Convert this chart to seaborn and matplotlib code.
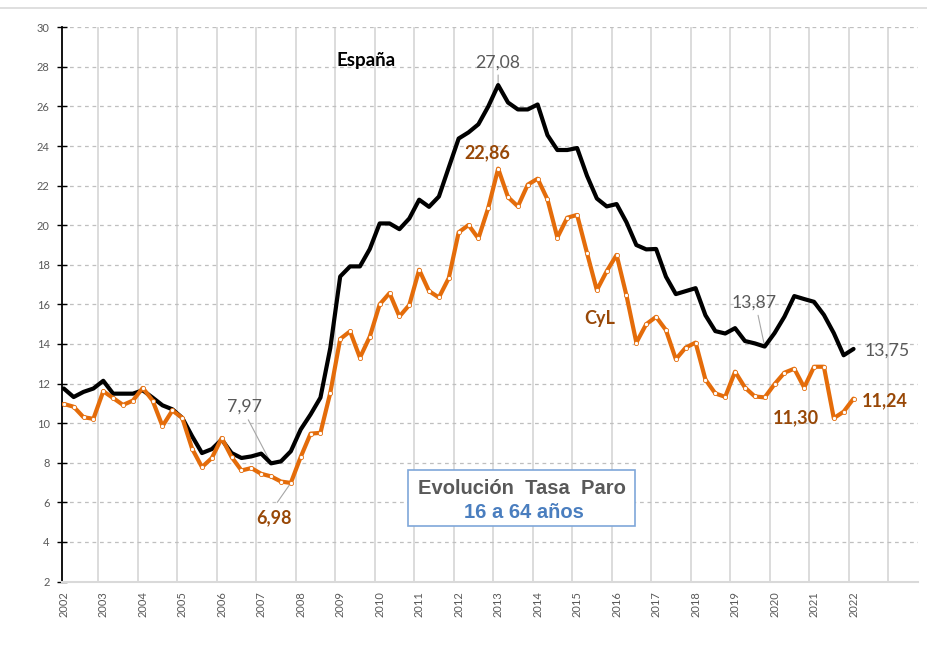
import numpy as np
import pandas as pd
import matplotlib
matplotlib.use("Agg")
import matplotlib.pyplot as plt
from matplotlib.patches import Rectangle
from matplotlib.lines import Line2D
import seaborn as sns

# -----------------------------------
# DATA : tasa de paro 16-64 anos, trimestral 2002T1 - 2022T1
# -----------------------------------

years = [2002, 2003, 2004, 2005, 2006, 2007, 2008, 2009, 2010, 2011, 2012,
         2013, 2014, 2015, 2016, 2017, 2018, 2019, 2020, 2021, 2022]

espana = [11.75, 11.32, 11.58, 11.75, 12.14, 11.49, 11.49, 11.49, 11.66, 11.29,
          10.90, 10.70, 10.27, 9.34, 8.49, 8.69, 9.17, 8.49, 8.24, 8.32,
          8.46, 7.97, 8.07, 8.58, 9.68, 10.44, 11.29, 13.80, 17.41, 17.92,
          17.92, 18.80, 20.09, 20.09, 19.80, 20.34, 21.29, 20.93, 21.45, 22.92,
          24.38, 24.69, 25.10, 26.00, 27.08, 26.20, 25.85, 25.85, 26.10, 24.55,
          23.80, 23.80, 23.90, 22.50, 21.35, 20.95, 21.07, 20.15, 19.00, 18.78,
          18.80, 17.40, 16.52, 16.67, 16.82, 15.45, 14.65, 14.53, 14.80, 14.15,
          14.03, 13.87, 14.55, 15.38, 16.42, 16.27, 16.13, 15.47, 14.55, 13.43,
          13.75]

cyl = [10.97, 10.83, 10.30, 10.22, 11.61, 11.27, 10.92, 11.14, 11.78, 11.14,
       9.85, 10.64, 10.27, 8.71, 7.78, 8.24, 9.25, 8.29, 7.61, 7.73,
       7.44, 7.31, 7.05, 6.98, 8.29, 9.47, 9.51, 11.54, 14.25, 14.64,
       13.31, 14.37, 16.00, 16.57, 15.39, 15.97, 17.75, 16.67, 16.35, 17.33,
       19.64, 20.01, 19.33, 20.88, 22.86, 21.42, 20.95, 22.05, 22.35, 21.30,
       19.38, 20.38, 20.52, 18.60, 16.72, 17.68, 18.50, 16.45, 14.07, 15.00,
       15.37, 14.70, 13.23, 13.82, 14.07, 12.20, 11.50, 11.33, 12.60, 11.80,
       11.35, 11.30, 11.97, 12.55, 12.75, 11.80, 12.85, 12.85, 10.25, 10.58,
       11.24]

# -----------------------------------
# STYLE
# -----------------------------------

BLACK = "#000000"
ORANGE = "#E46C0A"
BROWN = "#984807"
GREY_TXT = "#595959"
BLUE = "#4A7EBF"


def main():

    sns.set_theme(style="white")
    plt.rcParams["font.family"] = ["Lato", "DejaVu Sans"]

    df = pd.DataFrame({
        "q": np.arange(len(espana)),
        "espana": espana,
        "cyl": cyl,
    })

    fig = plt.figure(figsize=(9.27, 6.56), dpi=100)
    ax = fig.add_axes([61.5 / 927, 1 - 581.5 / 656,
                       (917.7 - 61.5) / 927, (581.5 - 27.3) / 656])

    # ---------------- LINES ----------------

    sns.lineplot(data=df, x="q", y="espana", ax=ax, color=BLACK,
                 linewidth=3, zorder=4)
    sns.lineplot(data=df, x="q", y="cyl", ax=ax, color=ORANGE,
                 linewidth=3, marker="o", markersize=3,
                 markerfacecolor="white", markeredgecolor=ORANGE,
                 markeredgewidth=0.6, zorder=5)

    # ---------------- AXES ----------------

    ax.set_xlim(-0.23, 86.5)
    ax.set_ylim(2, 30)

    ax.set_yticks(np.arange(2, 31, 2))
    ax.set_yticklabels([str(v) for v in np.arange(2, 31, 2)],
                       fontsize=8, color=GREY_TXT)

    ax.set_xticks([4 * k for k in range(len(years))])
    ax.set_xticklabels([str(y) for y in years], rotation=90,
                       fontsize=8, color=GREY_TXT)
    ax.set_xticks([4 * k - 0.5 for k in range(1, 22)], minor=True)

    ax.tick_params(axis="y", direction="inout", length=7, width=1,
                   color=BLACK, pad=5, left=True)
    ax.tick_params(axis="x", which="both", length=0, pad=7)

    ax.grid(False)
    ax.grid(axis="y", which="major", color="#BFBFBF", linestyle=(0, (3, 3)),
            linewidth=0.9)
    ax.grid(axis="x", which="minor", color="#D9D9D9", linestyle="-",
            linewidth=1.3)

    for side in ["top", "right"]:
        ax.spines[side].set_visible(False)
    ax.spines["left"].set_color(BLACK)
    ax.spines["left"].set_linewidth(1.3)
    ax.spines["bottom"].set_color("#D9D9D9")
    ax.spines["bottom"].set_linewidth(1.5)

    ax.set_xlabel("")
    ax.set_ylabel("")

    # ---------------- LABELS ----------------

    ax.text(30.64, 28.04, "España", fontsize=13.5, fontweight="bold",
            color=BLACK, ha="center", va="baseline")
    ax.text(54.3, 14.99, "CyL", fontsize=13, fontweight="bold",
            color=BROWN, ha="center", va="baseline")

    ax.text(44, 27.96, "27,08", fontsize=12.7, color=GREY_TXT,
            ha="center", va="baseline")
    ax.text(42.9, 23.37, "22,86", fontsize=13, fontweight="bold",
            color=BROWN, ha="center", va="baseline")
    ax.text(18.27, 10.59, "7,97", fontsize=12.7, color=GREY_TXT,
            ha="center", va="baseline")
    ax.text(21.31, 4.94, "6,98", fontsize=13, fontweight="bold",
            color=BROWN, ha="center", va="baseline")
    ax.text(69.9, 15.82, "13,87", fontsize=12.7, color=GREY_TXT,
            ha="center", va="baseline")
    ax.text(81.14, 13.42, "13,75", fontsize=12.7, color=GREY_TXT,
            ha="left", va="baseline")
    ax.text(74.2, 10.02, "11,30", fontsize=13, fontweight="bold",
            color=BROWN, ha="center", va="baseline")
    ax.text(80.8, 10.85, "11,24", fontsize=13, fontweight="bold",
            color=BROWN, ha="left", va="baseline")

    # leader lines
    leader = dict(arrowstyle="-", color="#A6A6A6", lw=0.8,
                  shrinkA=0, shrinkB=0)
    ax.annotate("", xy=(44, espana[44]), xytext=(44, 27.59),
                arrowprops=leader)
    ax.annotate("", xy=(21, espana[21]), xytext=(18.69, 10.17),
                arrowprops=leader)
    ax.annotate("", xy=(23, cyl[23]), xytext=(21.63, 6.0),
                arrowprops=leader)
    ax.annotate("", xy=(71, espana[71]), xytext=(70.33, 15.45),
                arrowprops=leader)

    # ---------------- TITLE BOX ----------------

    fig.add_artist(Rectangle((408.3 / 927, 1 - 526 / 656),
                             (635 - 408.3) / 927, 56 / 656,
                             transform=fig.transFigure, fill=True,
                             facecolor="white", edgecolor="#7FA7D9",
                             linewidth=1.2, zorder=6))
    fig.text(521.7 / 927, 1 - 494 / 656, "Evolución  Tasa  Paro",
             family=["Liberation Sans", "DejaVu Sans"], fontsize=14.5,
             fontweight="bold", color=GREY_TXT, ha="center",
             va="baseline", zorder=7)
    fig.text(524 / 927, 1 - 518.3 / 656, "16 a 64 años",
             family=["Liberation Sans", "DejaVu Sans"], fontsize=14.5,
             fontweight="bold", color=BLUE, ha="center",
             va="baseline", zorder=7)

    # outer chart border (top edge)
    fig.add_artist(Line2D([0, 1], [1 - 8 / 656, 1 - 8 / 656],
                          transform=fig.transFigure, color="#D9D9D9",
                          linewidth=1.2))

    fig.savefig("out.png", dpi=100)


if __name__ == "__main__":
    main()
